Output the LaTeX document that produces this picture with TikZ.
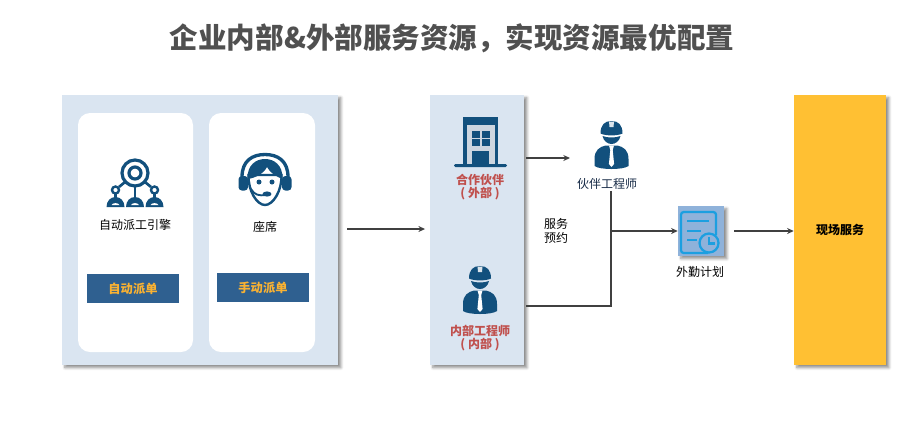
\documentclass[tikz,border=0pt]{standalone}
\usepackage{fontspec}
\setmainfont{Noto Sans CJK SC}
\usetikzlibrary{arrows.meta,shadows.blur}
\definecolor{navy}{RGB}{18,80,125}
\definecolor{panelblue}{RGB}{218,229,241}
\definecolor{btnblue}{RGB}{47,96,144}
\definecolor{btngold}{RGB}{250,178,50}
\definecolor{sitegold}{RGB}{255,192,51}
\definecolor{redtext}{RGB}{192,80,77}
\definecolor{linegray}{RGB}{64,64,64}
\definecolor{tileblue}{RGB}{143,178,218}
\definecolor{planblue}{RGB}{28,159,224}
\tikzset{
	every pic/.style={yscale=-1},
	softshadow/.style={blur shadow={shadow xshift=2.2pt,shadow yshift=-2pt,shadow blur radius=2pt,shadow blur steps=6,shadow opacity=45}},
	panel/.style={anchor=center,inner sep=0pt,fill=panelblue,softshadow},
	card/.style={anchor=center,inner sep=0pt,fill=white,rounded corners=9pt},
	btn/.style={anchor=center,inner sep=0pt,fill=btnblue,minimum width=69pt,minimum height=21.75pt,text=btngold,font=\fontsize{9.2}{11}\selectfont\bfseries},
	txt/.style={inner sep=0.75pt,text=black,font=\fontsize{9}{11}\selectfont},
	redtxt/.style={inner sep=0.75pt,text=redtext,font=\fontsize{9}{11}\selectfont\bfseries},
	link/.style={draw=linegray,line width=1.2pt},
	arrow/.style={link,-{Stealth[length=5pt,width=4.5pt]}},
	engineer/.pic={
		% hat
		\fill[navy] (-11,12.5) .. controls (-11,4) and (-7,0) .. (0,0) .. controls (7,0) and (11,4) .. (11,12.5) .. controls (6,15) and (-6,15) .. (-11,12.5) -- cycle;
		\fill[white,opacity=0.85] (-2.5,0.5) -- (2.5,0.5) -- (2,6) -- (-2,6) -- cycle;
		% face
		\fill[navy] (-9,15) .. controls (-4,17) and (4,17) .. (9,15) .. controls (8,20) and (4,23) .. (0,23) .. controls (-4,23) and (-8,20) .. (-9,15) -- cycle;
		% body
		\fill[navy] (-6,24.5) -- (6,24.5) .. controls (12,26) and (17,29) .. (17,38) -- (17,45) .. controls (12,49) and (-12,49) .. (-17,45) -- (-17,38) .. controls (-17,29) and (-12,26) .. (-6,24.5) -- cycle;
		\fill[white] (-2.5,24.5) -- (2.5,24.5) -- (1.2,29) -- (2.6,43) -- (0,46) -- (-2.6,43) -- (-1.2,29) -- cycle;
	},
	building/.pic={
		\fill[navy] (-17.5,0) -- (17.5,0) -- (17.5,47) -- (-17.5,47) -- cycle;
		\fill[panelblue!85!gray] (-14,8) rectangle (14,47);
		\foreach \wx/\wy in {-9/14,1/14,-9/22,1/22} {
			\fill[navy] (\wx,\wy) rectangle ++(8.5,6.5);
		}
		\fill[navy] (-8.5,34) rectangle (8.5,48);
		\fill[navy,rounded corners=1pt] (-26.5,47) rectangle (26.5,50);
	},
	hub/.pic={
		\draw[navy,line width=2.4pt] (0,0) circle[radius=13];
		\draw[navy,line width=2.4pt] (0,0) circle[radius=6];
		\draw[navy,line width=2pt] (0,13) -- (0,25);
		\draw[navy,line width=2pt] (-10,9) -- (-16,14);
		\draw[navy,line width=2pt] (10,9) -- (16,14);
		\foreach \hx in {-19.5,19.5} {
			\draw[navy,line width=1.8pt] (\hx,17) circle[radius=3.5];
			\draw[navy,line width=1.8pt] (\hx,20) -- (\hx,25);
		}
		\foreach \hx in {-19.5,0,19.5} {
			\fill[navy] (\hx-9,34) .. controls (\hx-9,28) and (\hx-5,24) .. (\hx,24) .. controls (\hx+5,24) and (\hx+9,28) .. (\hx+9,34) -- cycle;
			\fill[white] (\hx-4,32) .. controls (\hx-3,29.5) and (\hx+3,29.5) .. (\hx+4,32) -- cycle;
		}
	},
	headset/.pic={
		% band and ear cups
		\draw[navy,line width=2.5pt] (-23,24) .. controls (-23,8) and (-13,1.5) .. (0,1.5) .. controls (13,1.5) and (23,8) .. (23,24);
		\fill[navy,rounded corners=2.5pt] (-26.5,23) rectangle (-17,37.5);
		\fill[navy,rounded corners=2.5pt] (17,23) rectangle (26.5,37.5);
		% face
		\draw[navy,line width=1.8pt,fill=white] (-16.5,22) .. controls (-17,38) and (-8,52) .. (0,52) .. controls (8,52) and (17,38) .. (16.5,22) -- cycle;
		% hair
		\fill[navy] (-17.5,26) .. controls (-18,12) and (-9,6) .. (0,6) .. controls (9,6) and (18,12) .. (17.5,26) .. controls (12,24) and (5,20) .. (2,14) .. controls (-1,20) and (-9,25) .. (-17.5,26) -- cycle;
		\fill[navy] (-6,29) circle[radius=2.5];
		\fill[navy] (7,29) circle[radius=2.5];
		% microphone
		\draw[navy,line width=1.4pt] (-14,36) .. controls (-11,42) and (-5,43) .. (0,42);
		\fill[navy] (2,41) ellipse[x radius=4.5,y radius=2.6];
	},
	planicon/.pic={
		\draw[planblue,line width=1.7pt,rounded corners=2pt] (8,22) -- (-19,22) -- (-19,-19) -- (16,-19) -- (16,4);
		\draw[planblue,line width=1.7pt,fill=tileblue] (9,12) circle[radius=9.5];
		\draw[planblue,line width=1.7pt] (9,6) -- (9,12.5) -- (15,12.5);
		\draw[planblue,line width=1.9pt] (-13,-10) -- (9,-10);
		\draw[planblue,line width=1.9pt] (-13,0) -- (1,0);
		\draw[planblue,line width=1.9pt] (-13,9) -- (-3,9);
	}
}
\begin{document}
\begin{tikzpicture}[x=0.75pt,y=0.75pt,yscale=-1,xscale=1]
	\useasboundingbox (0,0) rectangle (912,426);
	
	% Title
	\node[inner sep=0pt,text={rgb,255:red,80;green,80;blue,80},font=\fontsize{21.4}{26}\selectfont\bfseries] (title) at (452,38) {企业内部\&外部服务资源{\char"FF0C}实现资源最优配置};
	
	% Panels
	\node[panel,minimum width=207pt,minimum height=202.5pt] (leftpanel) at (200,230) {};
	\node[card,minimum width=86.25pt,minimum height=179.25pt] (autocard) at (135.5,232.5) {};
	\node[card,minimum width=79.5pt,minimum height=179.25pt] (seatcard) at (262,232.5) {};
	\node[panel,minimum width=70.5pt,minimum height=202.5pt] (midpanel) at (477,230) {};
	\node[panel,fill=sitegold,minimum width=69pt,minimum height=202.5pt,font=\fontsize{9}{11}\selectfont\bfseries] (site) at (840,230) {现场服务};
	\node[panel,fill=tileblue,minimum width=34.5pt,minimum height=37.5pt] (plan) at (701,231) {};
	
	% Buttons
	\node[btn] (autobtn) at (133,288.5) {自动派单};
	\node[btn] (manualbtn) at (263,287.5) {手动派单};
	
	% Icons
	\path (135,173) pic {hub};
	\path (265,153) pic {headset};
	\path (480.5,117) pic {building};
	\path (611.5,121) pic {engineer};
	\path (480,266) pic {engineer};
	\path (700,231) pic {planicon};
	
	% Text Node
	\node[txt] (autolabel) at (135,225) {自动派工引擎};
	\node[txt] (seatlabel) at (265,227) {座席};
	\node[redtxt] (partnerlabel) at (480,180) {合作伙伴};
	\node[redtxt] (partnersub) at (480,194) {( 外部 )};
	\node[redtxt] (innerlabel) at (480,331) {内部工程师};
	\node[redtxt] (innersub) at (480,345) {( 内部 )};
	\node[txt,text={rgb,255:red,22;green,42;blue,70}] (engineerlabel) at (607,184) {伙伴工程师};
	\node[txt] (planlabel) at (700,272) {外勤计划};
	\node[txt] (booklabel) at (561.5,231) {\parbox{26pt}{\baselineskip=10.8pt 服务\\预约}};
	
	% Connectors
	\coordinate (dispatch) at (347,229);
	\coordinate (partnerin) at (570,158);
	\coordinate (innerout) at (526,306);
	\coordinate (junction) at (611,231);
	\draw[arrow,shorten >=3.5pt] (dispatch) -- (dispatch -| midpanel.west);
	\draw[arrow,shorten <=1.5pt] (midpanel.east |- partnerin) -- (partnerin);
	\draw[link] (engineerlabel.south -| junction) -- (junction);
	\draw[link] (innerout) -| (junction);
	\draw[arrow] (junction) -- (plan.west);
	\draw[arrow,shorten <=7.5pt] (plan.east) -- (plan.east -| site.west);
\end{tikzpicture}
\end{document}
